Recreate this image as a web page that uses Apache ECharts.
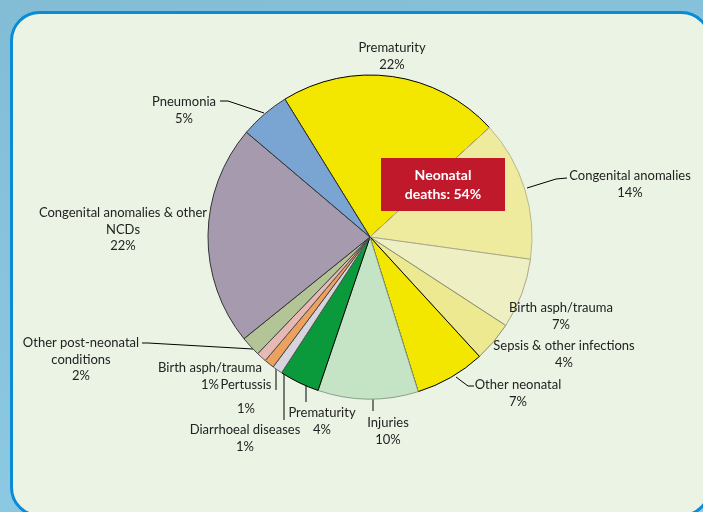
<!DOCTYPE html>
<html><head><meta charset="utf-8">
<script src="https://cdn.jsdelivr.net/npm/echarts@6/dist/echarts.min.js"></script>
<style>
html,body{margin:0;padding:0;overflow:hidden;}
#c{width:703px;height:512px;background:linear-gradient(165deg,#82bdd5 0%,#88c4dd 45%,#8fcce8 100%);}
</style>
</head><body><div id="c"></div>
<script>
// ---- data ----
const categories = ['Prematurity','Congenital anomalies','Birth asph/trauma','Sepsis & other infections','Other neonatal','Injuries','Prematurity','Diarrhoeal diseases','Pertussis','Birth asph/trauma','Other post-neonatal conditions','Congenital anomalies & other NCDs','Pneumonia'];
const labelNames = ['Prematurity','Congenital anomalies','Birth asph/trauma','Sepsis & other infections','Other neonatal','Injuries','Prematurity','Diarrhoeal diseases','Pertussis','Birth asph/trauma','Other post-neonatal\nconditions','Congenital anomalies & other\nNCDs','Pneumonia'];
const values = [22,14,7,4,7,10,4,1,1,1,2,22,5];
const boxLines = ['Neonatal','deaths: 54%'];

// ---- styles ----
const colors = ['#f3e700','#eeeb9e','#eef0c4','#ece991','#f3e700','#c5e4c6','#0b9a3b','#d6d5de','#eca15f','#e7b9b5','#b3c597','#a59aae','#7aa4d1'];
const borders = ['#000','#b9b98c','#a9a98a','#8e8e70','#000','#8aa08a','#000','#666','#444','#555','#444','#333','#333'];
const LH = 16.5;
// label anchor: [centerX, firstLineCenterY], and leader line points (or null)
const labelPos = [
  [392,48,null],
  [630,176,[[527,188],[556,179],[567,178]]],
  [561,308,null],
  [564,346,null],
  [518,385,[[456,377],[468,386],[474,386]]],
  [388,423,[[373,398],[373,411],[373,411]]],
  [322,413,[[306,385],[306,402],[306,402]]],
  [245,430,[[284,372],[284,420],[284,420]]],
  [246,385,[[276,368],[276,390],[276,390]]],
  [210,368,null],
  [81,343,[[253,349],[148,343],[142,343]]],
  [123,213,null],
  [184,102,[[264,113],[228,101],[220,101]]]
];

const data = categories.map((n,i)=>({
  name:n, value:values[i],
  itemStyle:{color:colors[i],borderColor:borders[i],borderWidth:1},
  label: i===8 ? {lineHeight:24} : {},
  labelLine:{show: !!labelPos[i][2]}
}));

const chart = echarts.init(document.getElementById('c'));
chart.setOption({
  animation:false,
  graphic:[
    {type:'rect',z:0,shape:{x:11.5,y:12.5,width:698,height:503,r:28},style:{fill:'#ebf4e4',stroke:'#0a8bd5',lineWidth:3}},
    {type:'rect',z:10,shape:{x:381,y:158,width:124,height:53},style:{fill:'#c0192b'}},
    {type:'text',z:11,x:443,y:184.5,style:{text:boxLines.join('\n'),fill:'#fff',font:'bold 14px Lato',align:'center',verticalAlign:'middle',lineHeight:19}}
  ],
  series:[{
    type:'pie',
    center:[370,237],
    radius:162,
    startAngle:121.7,
    clockwise:true,
    avoidLabelOverlap:false,
    data:data,
    label:{
      show:true,position:'outside',
      formatter:(p)=>labelNames[p.dataIndex]+'\n'+p.value+'%',
      color:'#222',fontFamily:'Lato',fontSize:13,lineHeight:LH,align:'center'
    },
    labelLine:{lineStyle:{color:'#000',width:1}},
    labelLayout:(p)=>{
      const lp = labelPos[p.dataIndex];
      const lh = p.dataIndex===8 ? 24 : LH;
      const o = {x:lp[0], y:lp[1]-lh/2, align:'center', verticalAlign:'top'};
      if(lp[2]) o.labelLinePoints = lp[2];
      return o;
    },
    emphasis:{disabled:true}
  }]
});
</script>
</body></html>
